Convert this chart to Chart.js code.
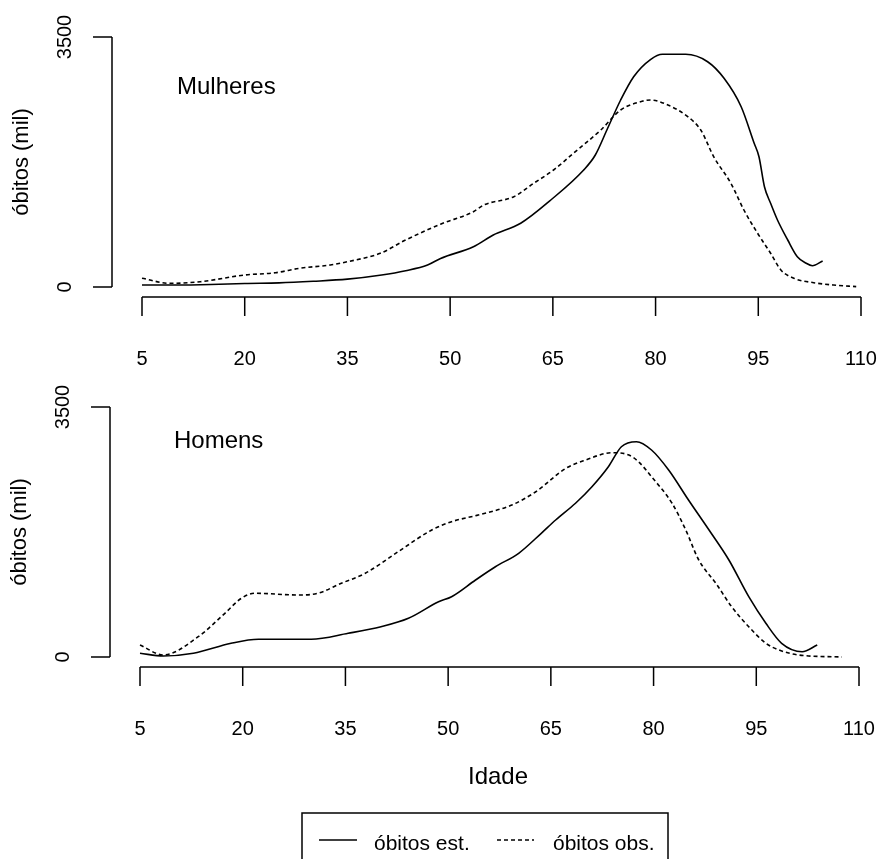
<!DOCTYPE html>
<html>
<head>
<meta charset="utf-8">
<script src="https://cdn.jsdelivr.net/npm/chart.js@4.4.1/dist/chart.umd.min.js"></script>
<style>
  html, body { margin: 0; padding: 0; background: #fff; }
  #wrap { position: relative; width: 878px; height: 859px; overflow: hidden; }
  canvas { position: absolute; left: 0; }
</style>
</head>
<body>
<div id="wrap">
  <canvas id="topChart" width="878" height="380" style="top:0"></canvas>
  <canvas id="botChart" width="878" height="479" style="top:380px"></canvas>
</div>
<script>
// ---- data ----
const xTicks = [5, 20, 35, 50, 65, 80, 95, 110];
const yTicks = [0, 3500];
const seriesLabels = ["óbitos est.", "óbitos obs."];

// Mulheres
const mulEstAge = [5, 10, 15, 20, 25, 30, 35, 40, 43.5, 46.7, 48.6, 53.4, 56.3, 60.3, 64.7, 69.5, 71.2, 73, 74.9, 76.8, 79.3, 81, 84.4, 87.6, 90, 92.5, 94.4, 95.1, 95.9, 96.8, 97.8, 99.3, 100.7, 102, 102.9, 104.4];
const mulEst    = [28, 28, 35, 50, 58, 80, 110, 168, 228, 308, 400, 564, 728, 892, 1218, 1638, 1848, 2222, 2618, 2944, 3188, 3258, 3258, 3154, 2922, 2524, 2012, 1824, 1404, 1172, 938, 658, 424, 332, 298, 364];
const mulObsAge = [5, 9, 13.5, 20, 24.5, 28, 32.5, 35, 39.8, 43.5, 48.6, 53.4, 54.9, 59.3, 62.2, 65.1, 68, 72, 74.9, 77.8, 79.3, 81.8, 84.7, 86.6, 88.5, 91, 92.9, 94.9, 96.8, 98.3, 100.2, 103.1, 106, 109.3];
const mulObs    = [122, 52, 74, 168, 200, 262, 308, 354, 472, 658, 880, 1054, 1148, 1264, 1452, 1638, 1872, 2198, 2478, 2594, 2618, 2548, 2384, 2198, 1822, 1452, 1078, 752, 472, 238, 122, 60, 28, 5];

// Homens
const homEstAge = [5, 8.4, 12.8, 18.3, 22.3, 30, 35.4, 40.2, 44.2, 48.6, 50.5, 54, 56.9, 60.3, 63.6, 65.7, 68.6, 71, 73.4, 75.3, 77.5, 79.7, 82.2, 85.1, 88.1, 91, 93.9, 96.4, 98.7, 101.7, 103.9];
const homEst    = [52, 14, 52, 192, 248, 248, 332, 424, 542, 774, 844, 1078, 1264, 1452, 1732, 1918, 2152, 2384, 2664, 2944, 3014, 2898, 2618, 2198, 1778, 1358, 844, 472, 192, 74, 168];
const homObsAge = [5, 8.4, 13.5, 17.4, 19.8, 21.8, 28.1, 31, 34.4, 37.9, 42.7, 47.6, 50.5, 54.4, 59.3, 62.8, 67.2, 70.1, 73.9, 76.4, 77.8, 79.7, 82.7, 84.7, 86.6, 89.1, 91.4, 93.9, 96.4, 98.3, 101.2, 107.5];
const homObs    = [168, 28, 284, 612, 822, 892, 868, 892, 1032, 1172, 1474, 1778, 1894, 1988, 2128, 2314, 2642, 2758, 2860, 2828, 2734, 2524, 2152, 1778, 1358, 1032, 704, 424, 192, 98, 28, 0];

const FONT = '"Liberation Sans", Arial, sans-serif';
const DOTTED = [4, 3];

const toPts = (xs, ys) => xs.map((x, i) => ({ x, y: ys[i] }));

/* =========================
   R-STYLE AXES PLUGIN
   ========================= */
const rAxes = {
  id: "rAxes",
  afterDraw(chart, args, opts) {
    const { ctx, chartArea: a, scales: { x, y } } = chart;
    ctx.save();
    ctx.strokeStyle = "#000";
    ctx.fillStyle = "#000";
    ctx.lineWidth = 1.5;

    // y axis (detached, left of plot)
    const yx = a.left - 30;
    ctx.beginPath();
    ctx.moveTo(yx, y.getPixelForValue(yTicks[0]));
    ctx.lineTo(yx, y.getPixelForValue(yTicks[yTicks.length - 1]));
    yTicks.forEach(t => {
      const py = y.getPixelForValue(t);
      ctx.moveTo(yx, py);
      ctx.lineTo(yx - 19, py);
    });
    ctx.stroke();

    ctx.font = "20px " + FONT;
    ctx.textAlign = "center";
    ctx.textBaseline = "middle";
    yTicks.forEach(t => {
      ctx.save();
      ctx.translate(a.left - 77, y.getPixelForValue(t));
      ctx.rotate(-Math.PI / 2);
      ctx.fillText(String(t), 0, 0);
      ctx.restore();
    });

    // y title
    ctx.save();
    ctx.font = "22px " + FONT;
    ctx.translate(a.left - 120, (a.top + a.bottom) / 2);
    ctx.rotate(-Math.PI / 2);
    ctx.fillText("óbitos (mil)", 0, 0);
    ctx.restore();

    // x axis (detached, below plot)
    const xy = a.bottom + 10;
    ctx.beginPath();
    ctx.moveTo(x.getPixelForValue(xTicks[0]), xy);
    ctx.lineTo(x.getPixelForValue(xTicks[xTicks.length - 1]), xy);
    xTicks.forEach(t => {
      const px = x.getPixelForValue(t);
      ctx.moveTo(px, xy);
      ctx.lineTo(px, xy + 19);
    });
    ctx.stroke();

    ctx.font = "20px " + FONT;
    xTicks.forEach(t => ctx.fillText(String(t), x.getPixelForValue(t), a.bottom + 72));

    // panel label
    ctx.font = "24px " + FONT;
    ctx.textAlign = "left";
    ctx.textBaseline = "alphabetic";
    ctx.fillText(opts.panel, opts.panelX, opts.panelY);

    // x title + legend only on the lower panel
    if (opts.bottomExtras) {
      ctx.textAlign = "center";
      ctx.font = "24px " + FONT;
      ctx.fillText("Idade", 498, 404);

      ctx.lineWidth = 1.5;
      ctx.strokeRect(302, 433, 366, 80);

      ctx.font = "21px " + FONT;
      ctx.textAlign = "left";
      const entries = [
        { x0: 319, x1: 357, tx: 374, dash: [] },
        { x0: 497, x1: 534, tx: 553, dash: DOTTED }
      ];
      entries.forEach((e, i) => {
        ctx.setLineDash(e.dash);
        ctx.beginPath();
        ctx.moveTo(e.x0, 460);
        ctx.lineTo(e.x1, 460);
        ctx.stroke();
        ctx.setLineDash([]);
        ctx.fillText(seriesLabels[i], e.tx, 470);
      });
    }
    ctx.restore();
  }
};

function makeChart(el, est, obs, padding, pluginOpts) {
  const common = { borderColor: "#000", borderWidth: 1.6, pointRadius: 0, cubicInterpolationMode: "monotone", clip: false };
  return new Chart(el, {
    type: "line",
    data: {
      datasets: [
        { ...common, label: seriesLabels[0], data: est },
        { ...common, label: seriesLabels[1], data: obs, borderDash: DOTTED }
      ]
    },
    options: {
      responsive: false,
      animation: false,
      layout: { padding },
      scales: {
        x: { type: "linear", min: 5, max: 110, display: false },
        y: { min: 0, max: 3500, display: false }
      },
      plugins: {
        legend: { display: false },
        tooltip: { enabled: false },
        rAxes: pluginOpts
      }
    },
    plugins: [rAxes]
  });
}

makeChart(
  document.getElementById("topChart"),
  toPts(mulEstAge, mulEst),
  toPts(mulObsAge, mulObs),
  { left: 142, right: 17, top: 37, bottom: 93 },
  { panel: "Mulheres", panelX: 177, panelY: 94, bottomExtras: false }
);

makeChart(
  document.getElementById("botChart"),
  toPts(homEstAge, homEst),
  toPts(homObsAge, homObs),
  { left: 140, right: 19, top: 27, bottom: 202 },
  { panel: "Homens", panelX: 174, panelY: 68, bottomExtras: true }
);
</script>
</body>
</html>
